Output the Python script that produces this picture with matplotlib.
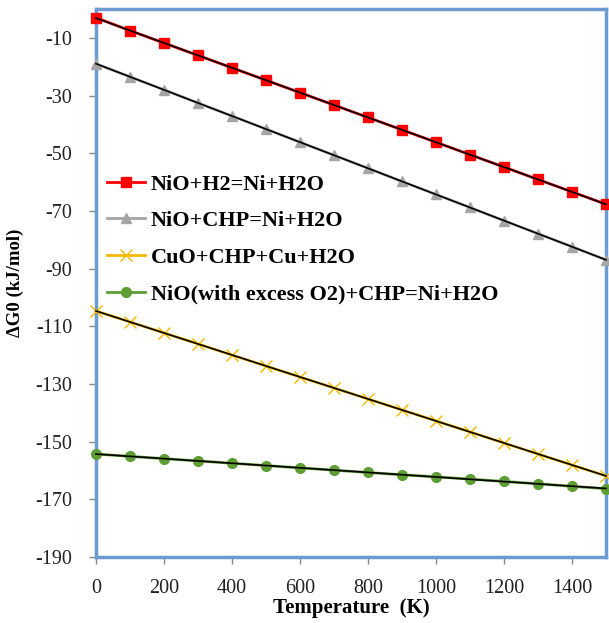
import numpy as np
import matplotlib
matplotlib.use("Agg")
import matplotlib.pyplot as plt

# temperatures (K) and Gibbs energies (kJ/mol)
temperature = [0, 100, 200, 300, 400, 500, 600, 700, 800, 900, 1000, 1100, 1200, 1300, 1400, 1500]
nio_h2 = [-3.0, -7.5, -11.8, -16.1, -20.4, -24.7, -29.0, -33.3, -37.6, -41.9, -46.2, -50.5, -54.8, -59.1, -63.4, -67.7]
nio_chp = [-19.0, -23.5, -28.0, -32.6, -37.1, -41.6, -46.2, -50.7, -55.2, -59.8, -64.3, -68.8, -73.4, -77.9, -82.4, -87.0]
cuo_chp = [-104.7, -108.5, -112.3, -116.1, -120.0, -123.8, -127.6, -131.4, -135.2, -139.0, -142.8, -146.6, -150.5, -154.3, -158.1, -161.9]
nio_o2 = [-154.3, -155.1, -155.9, -156.7, -157.5, -158.3, -159.1, -159.9, -160.7, -161.5, -162.2, -163.0, -163.8, -164.6, -165.5, -166.3]

labels = ["NiO+H2=Ni+H2O", "NiO+CHP=Ni+H2O", "CuO+CHP+Cu+H2O", "NiO(with excess O2)+CHP=Ni+H2O"]
y_ticks = [-10, -30, -50, -70, -90, -110, -130, -150, -170, -190]
x_ticks = [0, 200, 400, 600, 800, 1000, 1200, 1400]

plt.rcParams['font.family'] = ['Liberation Serif', 'DejaVu Serif']
plt.rcParams['axes.unicode_minus'] = False

fig = plt.figure(figsize=(6.09, 6.23), dpi=100)
ax = fig.add_axes([96/609, 1 - 557/623, 510/609, 548/623])

styles = [
    dict(color='#FF0000', marker='s', ms=7.5, mec='#FF0000'),
    dict(color='#A5A5A5', marker='^', ms=7, mec='#A5A5A5'),
    dict(color='#F5B800', marker='x', ms=9, mew=1.0),
    dict(color='#5E9E35', marker='o', ms=7, mec='#5E9E35'),
]
T = np.array(temperature)
for vals, lab, st in zip([nio_h2, nio_chp, cuo_chp, nio_o2], labels, styles):
    ax.plot(T, vals, lw=2.0, label=lab, clip_on=False, zorder=3, **st)
    # linear trend line drawn over each series
    k, b = np.polyfit(T, vals, 1)
    ax.plot(T, k * T + b, color='black', lw=1.2, zorder=4, clip_on=False)

ax.set_xlim(0, 1500)
ax.set_ylim(-190, 0)
ax.set_xticks(x_ticks)
ax.set_yticks(y_ticks)
ax.tick_params(axis='both', labelsize=14.5, colors='#888888', labelcolor='#222222', length=5, width=1)
ax.tick_params(axis='x', pad=11)
ax.tick_params(axis='y', pad=12)

for sp in ax.spines.values():
    sp.set_color('#6B9BD1')
    sp.set_linewidth(2.5)

ax.set_xlabel("Temperature  (K)", fontsize=15, fontweight='bold', labelpad=0)
ax.set_ylabel("ΔG0 (kJ/mol)", fontsize=13.5, fontweight='bold', labelpad=8)

ax.legend(loc='upper left', bbox_to_anchor=(0.005, 0.715), frameon=False,
          prop={'size': 16, 'weight': 'bold'}, handlelength=1.7, handletextpad=0.25,
          labelspacing=0.72, borderaxespad=0)

fig.savefig("out.png", dpi=100)
